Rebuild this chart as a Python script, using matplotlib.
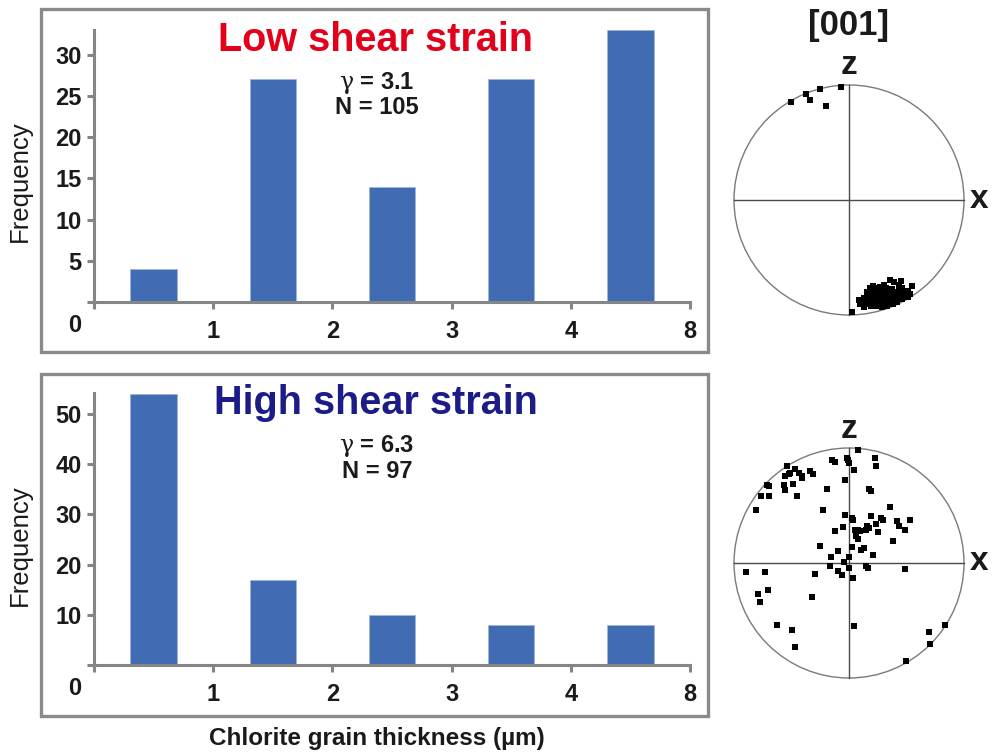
import matplotlib
matplotlib.use("Agg")
import matplotlib.pyplot as plt
from matplotlib.patches import Rectangle, Circle
import numpy as np

plt.rcParams['font.family'] = ['Liberation Sans', 'DejaVu Sans']
plt.rcParams['mathtext.fontset'] = 'custom'
plt.rcParams['mathtext.rm'] = 'DejaVu Serif'

# ---------------- data ----------------
bin_labels = ["0", "1", "2", "3", "4", "8"]
low_counts = [4, 27, 14, 27, 33]
high_counts = [54, 17, 10, 8, 8]
low_title = "Low shear strain"
high_title = "High shear strain"
low_gamma, low_n = "3.1", "105"
high_gamma, high_n = "6.3", "97"

# stereonet [001] poles, projection units (primitive circle radius = 100)
low_x = [-6.7, -24.9, -37.1, -33.6, -50.4, -19.7,
         35.9, 38.8, 45.2, 43.2, 54.8, 18.6, 20.9, 23.8, 26.7, 29.6, 31.9, 34.5, 37.4, 40.3,
         43.2, 46.1, 48.1, 51.0, 53.3, 51.0, 15.7, 18.0, 20.3, 22.6, 24.9, 27.2, 29.6, 31.9,
         34.2, 36.5, 38.8, 41.2, 43.5, 45.8, 48.1, 12.8, 15.1, 17.4, 19.7, 22.0, 24.3, 26.7,
         29.0, 31.3, 33.6, 35.9, 38.3, 40.6, 41.7, 9.9, 12.2, 16.8, 19.1, 21.4, 23.8, 26.1,
         28.4, 30.7, 33.0, 2.6, 12.8, 8.4, 25.8, 30.1]
low_z = [98.6, 96.5, 92.2, 87.0, 85.5, 81.7,
         -69.6, -71.6, -70.4, -73.9, -74.5, -76.2, -75.1, -76.8, -75.7, -78.0, -76.8, -79.1, -77.4, -79.7,
         -78.6, -76.8, -80.3, -79.1, -82.0, -84.3, -80.3, -82.0, -79.7, -82.6, -80.9, -83.8, -81.4, -84.3,
         -82.0, -84.9, -82.6, -85.5, -83.2, -86.1, -84.3, -85.5, -87.8, -84.9, -87.2, -85.5, -88.4, -86.7,
         -89.0, -87.2, -89.6, -87.8, -90.1, -88.4, -89.0, -90.7, -89.0, -90.7, -92.5, -90.1, -92.5, -91.3,
         -93.0, -91.9, -92.5, -97.1, -92.8, -87.0, -79.7, -73.9]

high_x = [7.8, -14.8, -12.5, -1.7, -0.9, 0.3, 22.9, 23.8, 4.1, -3.8, -19.1, 17.7, 19.4,
          -53.9, -46.7, -52.5, -51.0, -55.4, -43.8, -40.9, -40.9, -33.6, -31.6, -71.3, -69.9,
          -56.8, -55.4, -49.0, -45.2, -76.2, -69.3, -80.9, -22.9,
          -3.8, 2.6, 3.2, 19.4, 28.1, 29.3, 35.9, 41.7, 43.2, 52.8, 48.4, 23.5, 15.7, 17.1,
          14.8, 5.5, 7.8, 9.9, 25.2, 6.1, 7.8, 38.3, -5.5, -12.5, -24.9, 2.6, 12.8, 10.7,
          -9.6, 20.6, -15.7, 0.3,
          -4.6, -16.8, 14.8, 16.5, 49.0, -9.9, -6.1, -0.3, 3.2, -29.9,
          -89.3, -73.3, -79.1, -70.7, -77.1, -32.2, -62.6, -49.6, -46.7, 4.1,
          69.9, 83.8, 70.0, 49.6]
high_z = [98.0, 89.9, 88.1, 91.3, 89.3, 87.0, 91.3, 84.1, 80.6, 72.5, 64.3, 64.6, 62.3,
          84.1, 81.7, 77.4, 78.3, 75.9, 78.3, 75.4, 73.9, 79.7, 77.4, 68.1, 67.2,
          68.1, 63.8, 68.7, 58.0, 58.0, 58.0, 46.4, 45.8,
          42.0, 39.1, 37.1, 40.6, 39.1, 37.1, 48.7, 36.2, 31.9, 37.7, 29.0, 34.2, 32.5, 30.4,
          29.0, 29.0, 28.4, 27.5, 26.7, 23.2, 20.9, 18.8, 31.3, 27.5, 15.1, 13.9, 13.0, 11.6,
          10.1, 7.2, 5.2, 5.2,
          0.6, -2.3, -2.3, -4.3, -5.2, -6.7, -10.7, -4.3, -13.0, -9.3,
          -8.1, -7.8, -27.0, -23.8, -34.2, -29.6, -53.6, -58.6, -73.0, -54.5,
          -60.0, -53.6, -70.5, -85.5]

# ---------------- figure ----------------
W, H = 992, 752
fig = plt.figure(figsize=(W / 100, H / 100), dpi=100)

def fr(x0, y0, x1, y1):
    """pixel box (top-left origin) -> figure fraction rect"""
    return [x0 / W, 1 - y1 / H, (x1 - x0) / W, (y1 - y0) / H]

bar_color = '#416cb4'
frame_color = '#8a8a8a'
axis_gray = '#858585'
txt = '#1a1a1a'

# panel frames
for (x0, y0, x1, y1) in [(41, 9, 708, 352), (41, 374, 708, 716)]:
    fig.add_artist(Rectangle((x0 / W, 1 - y1 / H), (x1 - x0) / W, (y1 - y0) / H,
                             transform=fig.transFigure, fill=False,
                             edgecolor=frame_color, linewidth=2.4))

def hist_panel(rect, counts, ymax, yticks, title, tcolor, gamma, n, ty, gy, ny, fy):
    ax = fig.add_axes(rect)
    pos = np.arange(len(counts)) + 0.5
    ax.bar(pos, counts, width=0.39, color=bar_color, edgecolor='#9db4dd', linewidth=0.6, zorder=2)
    ax.set_xlim(0, len(counts))
    ax.set_ylim(0, ymax)
    for s in ['top', 'right']:
        ax.spines[s].set_visible(False)
    for s in ['left', 'bottom']:
        ax.spines[s].set_color(axis_gray)
        ax.spines[s].set_linewidth(2.2)
    ax.set_yticks([0] + yticks)
    ax.set_yticklabels([""] + [str(t) for t in yticks])
    ax.set_xticks(np.arange(len(counts) + 1))
    ax.set_xticklabels([""] + bin_labels[1:])
    ax.tick_params(axis='both', colors=axis_gray, width=2.2, length=5, direction='out',
                   labelcolor=txt, labelsize=17)
    ax.tick_params(axis='y', pad=4)
    ax.tick_params(axis='x', pad=8)
    for lab in ax.get_xticklabels() + ax.get_yticklabels():
        lab.set_fontweight('bold')
    # "0" label at the lower-left corner
    ax.text(-0.16, -0.088, bin_labels[0], transform=ax.get_xaxis_transform(),
            ha='center', va='center', fontsize=17, fontweight='bold', color=txt)
    fig.text(20 / W, 1 - fy / H, "Frequency", rotation=90, ha='center', va='center',
             fontsize=18.5, color=txt)
    fig.text(376 / W, 1 - ty / H, title, ha='center', va='center', fontsize=28.5,
             fontweight='bold', color=tcolor)
    fig.text(377 / W, 1 - gy / H, r"$\mathrm{\gamma}$ = " + gamma, ha='center', va='center',
             fontsize=17, fontweight='bold', color=txt)
    fig.text(377 / W, 1 - ny / H, "N = " + n, ha='center', va='center', fontsize=17,
             fontweight='bold', color=txt)
    return ax

hist_panel(fr(94, 30, 690, 302), low_counts, 33, [5, 10, 15, 20, 25, 30],
           low_title, '#e2001a', low_gamma, low_n, 40, 83, 108, 181)
hist_panel(fr(94, 393, 690, 665), high_counts, 54.2, [10, 20, 30, 40, 50],
           high_title, '#1c1c88', high_gamma, high_n, 403, 446, 472, 545)

fig.text(377 / W, 1 - 738 / H, "Chlorite grain thickness (µm)", ha='center', va='center',
         fontsize=17.5, fontweight='bold', color=txt)

def stereonet(cx, cy, xs, zs, msize):
    half = 126.5
    ax = fig.add_axes(fr(cx - half, cy - half, cx + half, cy + half))
    ax.set_xlim(-110, 110)
    ax.set_ylim(-110, 110)
    ax.set_aspect('equal')
    ax.axis('off')
    ax.add_patch(Circle((0, 0), 100, fill=False, edgecolor='#7a7a7a', linewidth=1.0))
    ax.plot([-100, 100], [0, 0], color='#4a4a4a', linewidth=1.0)
    ax.plot([0, 0], [-100, 100], color='#4a4a4a', linewidth=1.0)
    ax.scatter(xs, zs, marker='s', s=msize, color='black', linewidths=0, zorder=3)
    return ax

stereonet(849, 200, low_x, low_z, 22)
stereonet(849, 563, high_x, high_z, 18)

fig.text(849 / W, 1 - 26 / H, "[001]", ha='center', va='center', fontsize=25,
         fontweight='bold', color=txt)
for (zx, zy, xx, xy) in [(849, 66, 979, 199), (849, 430, 979, 562)]:
    fig.text(zx / W, 1 - zy / H, "z", ha='center', va='center', fontsize=24,
             fontweight='bold', color=txt)
    fig.text(xx / W, 1 - xy / H, "x", ha='center', va='center', fontsize=24,
             fontweight='bold', color=txt)

fig.savefig("out.png", dpi=100)
